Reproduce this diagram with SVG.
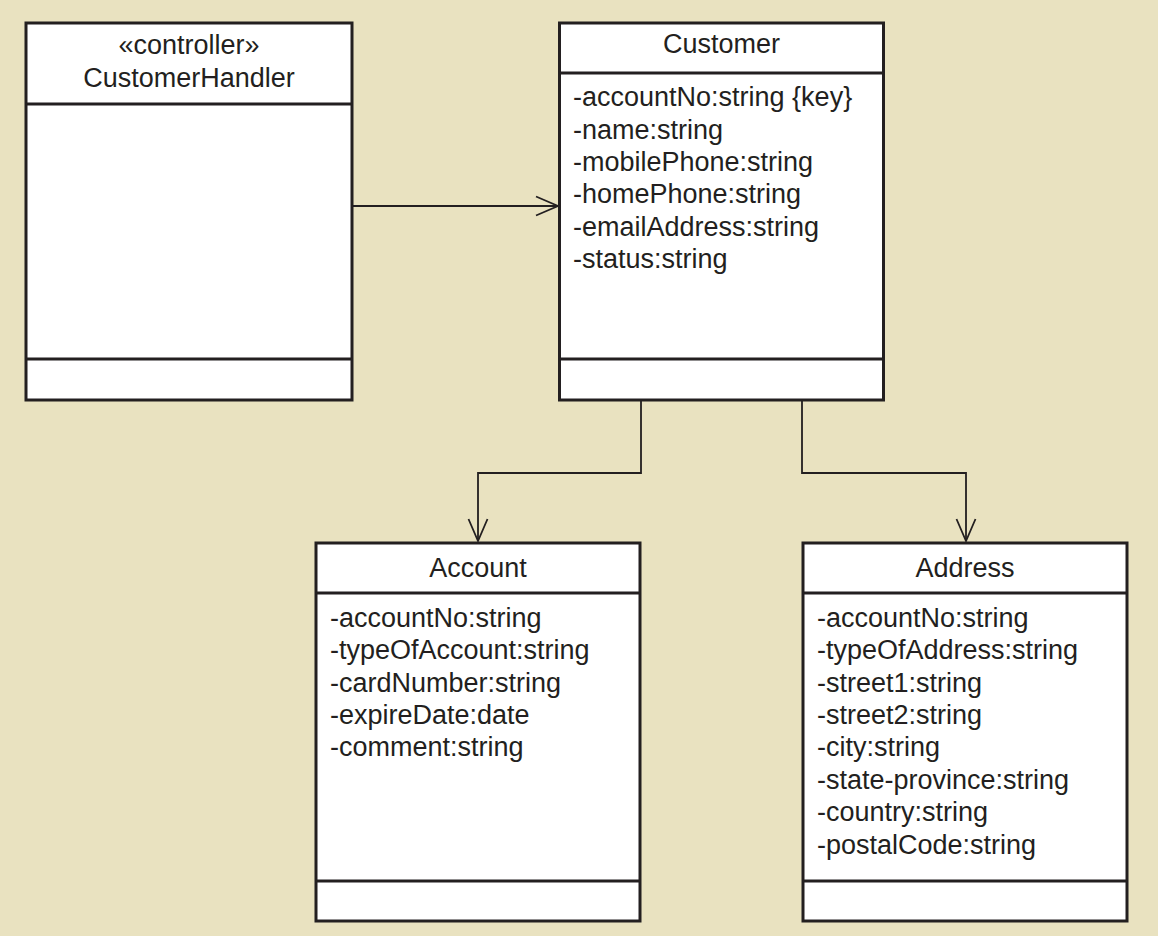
<svg xmlns="http://www.w3.org/2000/svg" width="1158" height="936" viewBox="0 0 1158 936">
  <style>
    .box { fill: #ffffff; stroke: #231f20; stroke-width: 3; }
    .div { stroke: #231f20; stroke-width: 3; fill: none; }
    .conn { stroke: #231f20; stroke-width: 1.8; fill: none; }
    text { font-family: "Liberation Sans", Arial, sans-serif; font-size: 27px; fill: #231f20; }
    .title { text-anchor: middle; }
  </style>
  <defs>
    <marker id="open" markerUnits="userSpaceOnUse" markerWidth="30" markerHeight="30" viewBox="-26 -13 30 26" refX="0" refY="0" orient="auto">
      <path d="M-22,-9.5 L0,0 L-22,9.5" fill="none" stroke="#231f20" stroke-width="1.8"/>
    </marker>
  </defs>
  <rect x="0" y="0" width="1158" height="936" fill="#e9e2c0"/>

  <g id="connectors">
    <path class="conn" d="M352,206 H558" marker-end="url(#open)"/>
    <path class="conn" d="M641,400 V473 H478 V541" marker-end="url(#open)"/>
    <path class="conn" d="M802,400 V473 H966 V541" marker-end="url(#open)"/>
  </g>

  <g id="CustomerHandler">
    <rect class="box" x="26" y="23" width="326" height="377"/>
    <line class="div" x1="26" y1="104" x2="352" y2="104"/>
    <line class="div" x1="26" y1="359" x2="352" y2="359"/>
    <text class="title" x="189" y="54">«controller»</text>
    <text class="title" x="189" y="87">CustomerHandler</text>
  </g>

  <g id="Customer">
    <rect class="box" x="559.5" y="23" width="324" height="377"/>
    <line class="div" x1="559.5" y1="73" x2="883.5" y2="73"/>
    <line class="div" x1="559.5" y1="359" x2="883.5" y2="359"/>
    <text class="title" x="721.5" y="53">Customer</text>
    <text x="573" y="106">-accountNo:string {key}</text>
    <text x="573" y="138.5">-name:string</text>
    <text x="573" y="171">-mobilePhone:string</text>
    <text x="573" y="203">-homePhone:string</text>
    <text x="573" y="236">-emailAddress:string</text>
    <text x="573" y="268">-status:string</text>
  </g>

  <g id="Account">
    <rect class="box" x="316" y="543" width="324" height="378"/>
    <line class="div" x1="316" y1="593" x2="640" y2="593"/>
    <line class="div" x1="316" y1="881" x2="640" y2="881"/>
    <text class="title" x="478" y="577">Account</text>
    <text x="330" y="627">-accountNo:string</text>
    <text x="330" y="659">-typeOfAccount:string</text>
    <text x="330" y="691.5">-cardNumber:string</text>
    <text x="330" y="723.5">-expireDate:date</text>
    <text x="330" y="756">-comment:string</text>
  </g>

  <g id="Address">
    <rect class="box" x="803" y="543" width="324" height="378"/>
    <line class="div" x1="803" y1="593" x2="1127" y2="593"/>
    <line class="div" x1="803" y1="881" x2="1127" y2="881"/>
    <text class="title" x="965" y="577">Address</text>
    <text x="817" y="627">-accountNo:string</text>
    <text x="817" y="659">-typeOfAddress:string</text>
    <text x="817" y="691.5">-street1:string</text>
    <text x="817" y="723.5">-street2:string</text>
    <text x="817" y="756">-city:string</text>
    <text x="817" y="788.5">-state-province:string</text>
    <text x="817" y="821">-country:string</text>
    <text x="817" y="853.5">-postalCode:string</text>
  </g>
</svg>
